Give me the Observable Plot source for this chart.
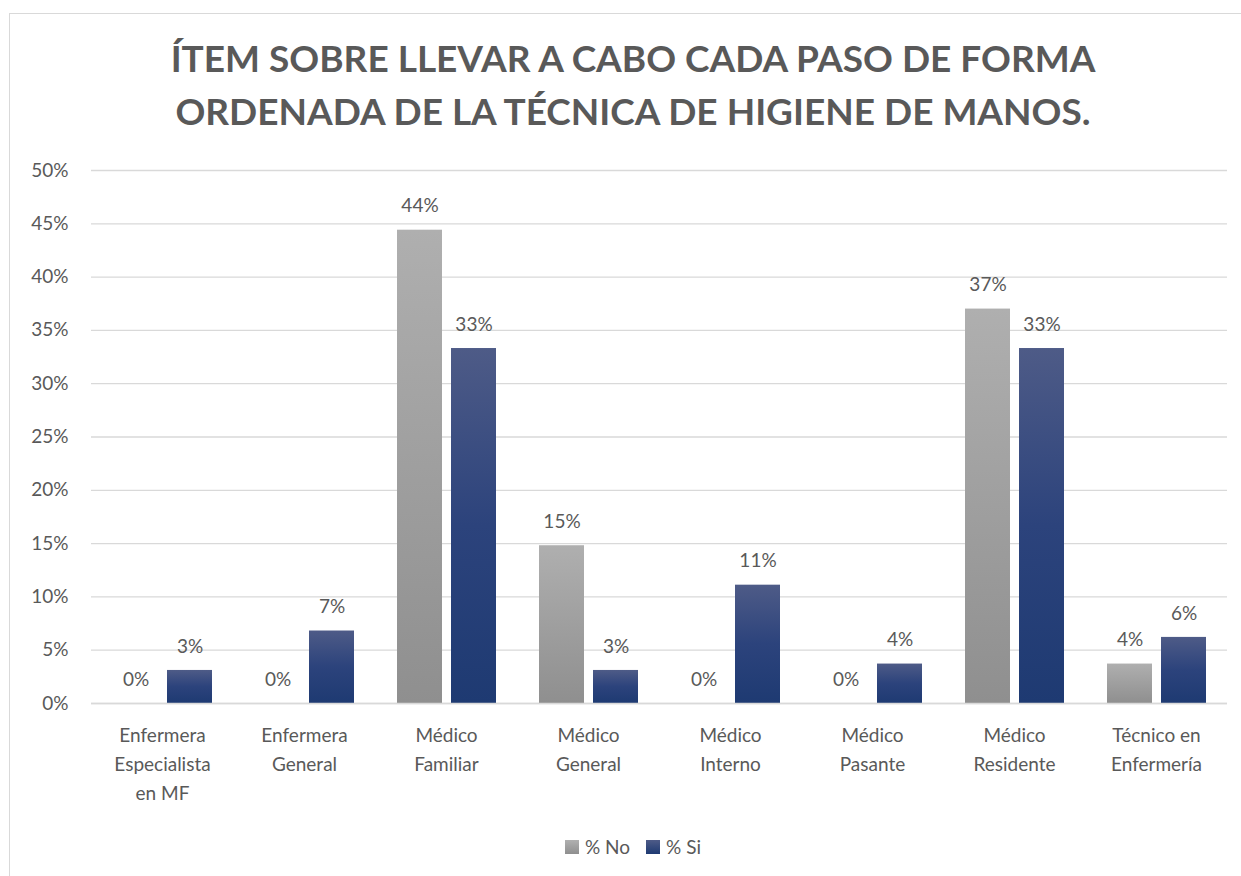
<!DOCTYPE html>
<html><head><meta charset="utf-8">
<script src="https://cdn.jsdelivr.net/npm/d3@7"></script>
<script src="https://cdn.jsdelivr.net/npm/@observablehq/plot@0.6"></script>
<style>
body{margin:0;background:#fff;font-family:Lato, "Open Sans", sans-serif;}
#wrap{position:relative;width:1241px;height:876px;overflow:hidden;background:#fff;}
#frame{position:absolute;left:9px;top:13px;width:1270px;height:900px;border:1.5px solid #d9d9d9;box-sizing:border-box;}
#title{position:absolute;left:0;width:1266px;top:31px;text-align:center;font-weight:bold;font-size:37px;line-height:53px;color:#595959;}
#chart{position:absolute;left:0;top:150px;}
#legend{position:absolute;left:565px;top:835px;display:flex;align-items:center;font-size:19px;color:#595959;white-space:nowrap;}
#legend .sw{width:14px;height:14px;display:inline-block;margin-right:6px;}
#legend .item{display:flex;align-items:center;margin-right:16px;}
</style></head>
<body>
<div id="wrap">
<div id="frame"></div>
<div id="title">ÍTEM SOBRE LLEVAR A CABO CADA PASO DE FORMA<br>ORDENADA DE LA TÉCNICA DE HIGIENE DE MANOS.</div>
<div id="chart"></div>
<div id="legend"></div>
</div>
<script>
const categories = ["Enfermera Especialista en MF","Enfermera General","Médico Familiar","Médico General","Médico Interno","Médico Pasante","Médico Residente","Técnico en Enfermería"];
const categoryLabels = ["Enfermera\nEspecialista\nen MF","Enfermera\nGeneral","Médico\nFamiliar","Médico\nGeneral","Médico\nInterno","Médico\nPasante","Médico\nResidente","Técnico en\nEnfermería"];
const seriesNames = ["% No","% Si"];
const noValues = [0, 0, 0.444, 0.148, 0, 0, 0.370, 0.037];
const siValues = [0.031, 0.068, 0.333, 0.031, 0.111, 0.037, 0.333, 0.062];
const yTicks = [0,0.05,0.10,0.15,0.20,0.25,0.30,0.35,0.40,0.45,0.50];

const rows = [];
categories.forEach((c,i)=>{
  rows.push({cat:c, serie:seriesNames[0], value:noValues[i]});
  rows.push({cat:c, serie:seriesNames[1], value:siValues[i]});
});
const labelOf = new Map(categories.map((c,i)=>[c,categoryLabels[i]]));
const txt = "#595959";

const chart = Plot.plot({
  width: 1241,
  height: 663,
  marginTop: 20,
  marginBottom: 110,
  marginLeft: 90,
  marginRight: 14,
  style: {fontFamily: "Lato, 'Open Sans', sans-serif", color: txt, background: "transparent"},
  fx: {domain: categories, paddingInner: 0, paddingOuter: 0, label: null, axis: null},
  x: {domain: seriesNames, paddingInner: 1/6, paddingOuter: 0.397, axis: null},
  y: {domain: [0, 0.5], label: null},
  marks: [
    Plot.gridY(yTicks, {stroke: "#d9d9d9", strokeOpacity: 1, strokeWidth: 1.3}),
    Plot.axisY(yTicks, {tickFormat: d3.format(".0%"), tickSize: 0, tickPadding: 23, fontSize: 19, fill: txt, label: null}),
    Plot.axisFx({anchor: "bottom", tickFormat: d => labelOf.get(d), tickSize: 0, tickPadding: 18, fontSize: 19, fill: txt, lineHeight: 1.53, lineAnchor: "top", label: null}),
    Plot.barY(rows, {fx: "cat", x: "serie", y: "value",
      fill: d => d.serie === seriesNames[0] ? "url(#gNo)" : "url(#gSi)",
      filter: d => d.value > 0}),
    Plot.text(rows, {fx: "cat", x: "serie", y: "value", text: d => d3.format(".0%")(d.value),
      dy: -24, fontSize: 19, fill: txt}),
    Plot.ruleY([0], {stroke: "#d9d9d9", strokeWidth: 1.5})
  ]
});

const defs = d3.create("svg:defs");
const g1 = defs.append("linearGradient").attr("id","gNo").attr("x1",0).attr("y1",0).attr("x2",0).attr("y2",1);
g1.append("stop").attr("offset","0%").attr("stop-color","#afafaf");
g1.append("stop").attr("offset","100%").attr("stop-color","#8f8f8f");
const g2 = defs.append("linearGradient").attr("id","gSi").attr("x1",0).attr("y1",0).attr("x2",0).attr("y2",1);
g2.append("stop").attr("offset","0%").attr("stop-color","#4e5b87");
g2.append("stop").attr("offset","50%").attr("stop-color","#2c437c");
g2.append("stop").attr("offset","100%").attr("stop-color","#1e3a72");
chart.insertBefore(defs.node(), chart.firstChild);
document.getElementById("chart").appendChild(chart);

const legend = document.getElementById("legend");
const swatchFill = ["linear-gradient(#b0b0b0,#8f8f8f)","linear-gradient(#4e5b87,#1e3a72)"];
seriesNames.forEach((s,i)=>{
  const it = document.createElement("div"); it.className="item";
  const sw = document.createElement("span"); sw.className="sw"; sw.style.background = swatchFill[i];
  it.appendChild(sw); it.appendChild(document.createTextNode(s));
  legend.appendChild(it);
});
</script>
</body></html>
